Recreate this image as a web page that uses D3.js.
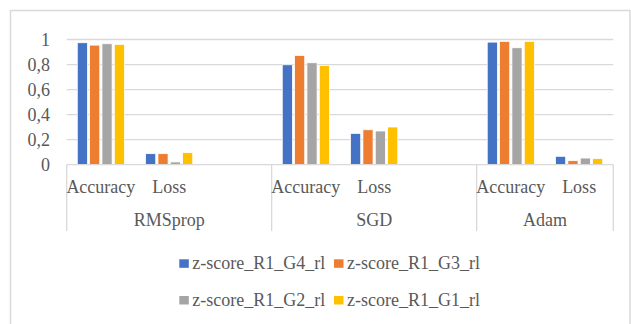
<!DOCTYPE html>
<html><head><meta charset="utf-8">
<script src="https://cdn.jsdelivr.net/npm/d3@7"></script>
<style>html,body{margin:0;padding:0;background:#fff;}svg{display:block;}
svg text{font-family:"Liberation Serif";font-size:18px;fill:#595959;}</style>
</head><body>
<svg id="c" width="631" height="324"></svg>
<script>
const groups = ["RMSprop", "SGD", "Adam"];
const metrics = ["Accuracy", "Loss"];
// category slots (blank slot between groups as in the source)
const categories = ["RMSprop|Accuracy","RMSprop|Loss","RMSprop|","SGD|Accuracy","SGD|Loss","SGD|","Adam|Accuracy","Adam|Loss"];
const seriesNames = ["z-score_R1_G4_rl","z-score_R1_G3_rl","z-score_R1_G2_rl","z-score_R1_G1_rl"];
const seriesColors = ["#4472C4","#ED7D31","#A5A5A5","#FFC000"];
// values per series, in order: RMSprop Acc, RMSprop Loss, SGD Acc, SGD Loss, Adam Acc, Adam Loss
const G4 = [0.974, 0.088, 0.798, 0.250, 0.979, 0.067];
const G3 = [0.955, 0.088, 0.873, 0.279, 0.985, 0.032];
const G2 = [0.966, 0.022, 0.814, 0.269, 0.934, 0.053];
const G1 = [0.961, 0.096, 0.793, 0.301, 0.985, 0.048];
const yTicks = [0, 0.2, 0.4, 0.6, 0.8, 1];
const yTickLabels = ["0","0,2","0,4","0,6","0,8","1"];

const seriesValues = [G4, G3, G2, G1];
const valueKeys = ["RMSprop|Accuracy","RMSprop|Loss","SGD|Accuracy","SGD|Loss","Adam|Accuracy","Adam|Loss"];

const svg = d3.select("#c");
const gridColor = "#d9d9d9";

// chart border
svg.append("rect").attr("x",10.5).attr("y",10.5).attr("width",619.5).attr("height",340)
  .attr("fill","none").attr("stroke",gridColor).attr("stroke-width",1.5);

const pLeft = 66.7, pRight = 613.3, pTop = 39.5, pBottom = 164.7;
const x = d3.scaleBand().domain(categories).range([pLeft,pRight]).paddingInner(0.31).paddingOuter(0.155);
const xs = d3.scaleBand().domain(seriesNames).range([0,x.bandwidth()]).paddingInner(0.18);
const y = d3.scaleLinear().domain([0,1]).range([pBottom,pTop]);

// gridlines
svg.append("g").selectAll("line").data(yTicks.filter(d=>d>0)).join("line")
  .attr("x1",pLeft).attr("x2",pRight).attr("y1",d=>y(d)).attr("y2",d=>y(d))
  .attr("stroke",gridColor).attr("stroke-width",1.3);

// y labels
svg.append("g").selectAll("text").data(yTicks).join("text")
  .attr("x",50).attr("y",d=>y(d)+6).attr("text-anchor","end")
  .text((d,i)=>yTickLabels[i]);

// bars
const barData = [];
seriesValues.forEach((vals,si)=>{
  vals.forEach((v,ci)=>barData.push({s:seriesNames[si], c:valueKeys[ci], v, color:seriesColors[si]}));
});
svg.append("g").selectAll("rect").data(barData).join("rect")
  .attr("x",d=>x(d.c)+xs(d.s)).attr("width",xs.bandwidth())
  .attr("y",d=>y(d.v)).attr("height",d=>y(0)-y(d.v))
  .attr("fill",d=>d.color).attr("stroke","#fff").attr("stroke-width",0.75);

// x axis baseline
svg.append("line").attr("x1",pLeft).attr("x2",pRight).attr("y1",pBottom).attr("y2",pBottom)
  .attr("stroke",gridColor).attr("stroke-width",1.3);

// group separators
const step = x.step();
const groupBounds = [pLeft, pLeft+3*step, pLeft+6*step, pRight];
svg.append("g").selectAll("line").data(groupBounds).join("line")
  .attr("x1",d=>d).attr("x2",d=>d).attr("y1",pBottom).attr("y2",231)
  .attr("stroke",gridColor).attr("stroke-width",1.3);

// category labels
svg.append("g").selectAll("text").data(valueKeys).join("text")
  .attr("x",d=>x(d)+x.bandwidth()/2).attr("y",192.7).attr("text-anchor","middle")
  .text(d=>d.split("|")[1]);

// group labels
svg.append("g").selectAll("text").data(groups).join("text")
  .attr("x",(d,i)=>(groupBounds[i]+groupBounds[i+1])/2).attr("y",226).attr("text-anchor","middle")
  .text(d=>d);

// legend
const legX = [179.3, 334], legY = [269.3, 306];
const leg = svg.append("g").selectAll("g").data(seriesNames).join("g")
  .attr("transform",(d,i)=>`translate(${legX[i%2]},${legY[Math.floor(i/2)]})`);
leg.append("rect").attr("x",0).attr("y",-10).attr("width",9.5).attr("height",8.5)
  .attr("fill",(d,i)=>seriesColors[i]);
leg.append("text").attr("x",13).attr("y",0).text(d=>d);
</script>
</body></html>
